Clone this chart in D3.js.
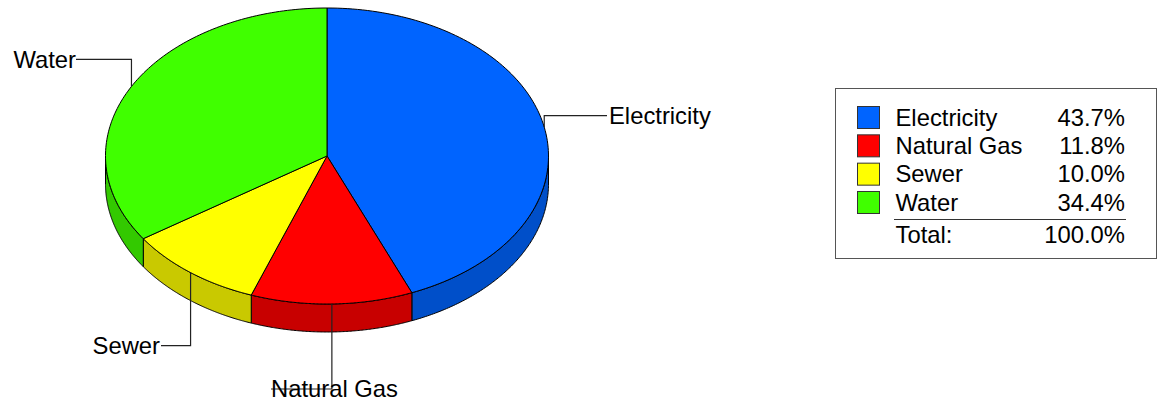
<!DOCTYPE html>
<html>
<head>
<meta charset="utf-8">
<script src="https://cdn.jsdelivr.net/npm/d3@7"></script>
<style>
  html,body{margin:0;padding:0;background:#fff;}
  svg{display:block;}
  text{font-family:"Liberation Sans",Arial,sans-serif;}
</style>
</head>
<body>
<script>
// ---- data ----
const categories = ["Electricity", "Natural Gas", "Sewer", "Water"];
const values = [43.7, 11.8, 10.0, 34.4];
const totalPercent = 100.0; // as printed in the legend (unrounded shares sum to 100)
const topColors = ["#0064FF", "#FF0000", "#FFFF00", "#40FF00"];
const sideColors = ["#004FC9", "#C80000", "#C9C900", "#33C900"];

// ---- layout ----
const W = 1161, H = 406;
const cx = 327, cy = 156, rx = 221.5, ry = 148, depth = 28;
const fontSize = 23.8;
// label anchor [x of leader end, y of leader, text-anchor]
const labelLayout = [
  {x: 607, y: 115.7, anchor: "start", tx: 609},
  {x: 271, y: 389, anchor: "start", tx: 271},
  {x: 161, y: 345.7, anchor: "end", tx: 160},
  {x: 76, y: 59.3, anchor: "end", tx: 76}
];

const svg = d3.select("body").append("svg").attr("width", W).attr("height", H);

const sx = d3.scaleLinear().domain([-1, 1]).range([cx - rx, cx + rx]);
const sy = d3.scaleLinear().domain([-1, 1]).range([cy - ry, cy + ry]);
const pt = (a, dz = 0) => [sx(Math.sin(a)), sy(-Math.cos(a)) + dz];

const arcs = d3.pie().sort(null).value(d => d).startAngle(0).endAngle(2 * Math.PI)(values);
const line = d3.line();
const N = 120;
const sample = (a0, a1, dz = 0) => d3.range(N + 1).map(i => pt(a0 + (a1 - a0) * i / N, dz));

// sides
const sideG = svg.append("g");
arcs.forEach((d, i) => {
  const s = Math.max(d.startAngle, Math.PI / 2), e = Math.min(d.endAngle, 3 * Math.PI / 2);
  if (s >= e) return;
  const pts = sample(s, e).concat(sample(e, s, depth));
  sideG.append("path")
    .attr("d", line(pts) + "Z")
    .attr("fill", sideColors[i])
    .attr("stroke", "#000").attr("stroke-width", 1).attr("stroke-linejoin", "round");
});

// top faces
const topG = svg.append("g");
arcs.forEach((d, i) => {
  const pts = [[cx, cy]].concat(sample(d.startAngle, d.endAngle));
  topG.append("path")
    .attr("d", line(pts) + "Z")
    .attr("fill", topColors[i])
    .attr("stroke", "#000").attr("stroke-width", 1).attr("stroke-linejoin", "round");
});

// leaders + labels
const lg = svg.append("g");
arcs.forEach((d, i) => {
  const mid = (d.startAngle + d.endAngle) / 2;
  const p = pt(mid);
  const L = labelLayout[i];
  lg.append("path")
    .attr("d", line([p, [p[0], L.y], [L.x, L.y]]))
    .attr("fill", "none").attr("stroke", "#222").attr("stroke-width", 1.2);
});
arcs.forEach((d, i) => {
  const L = labelLayout[i];
  lg.append("text")
    .attr("x", L.tx).attr("y", L.y + 8.2)
    .attr("text-anchor", L.anchor)
    .attr("font-size", fontSize).attr("fill", "#000")
    .text(categories[i]);
});

// legend
const fmt = d3.format(".1f");
const leg = svg.append("g");
leg.append("rect").attr("x", 835.5).attr("y", 88.5).attr("width", 321).attr("height", 170)
  .attr("fill", "#fff").attr("stroke", "#555").attr("stroke-width", 1);
const rowY = d3.scaleLinear().domain([0, 1]).range([106, 134.33]);
categories.forEach((c, i) => {
  const y = rowY(i);
  leg.append("rect").attr("x", 857.5).attr("y", y + 0.5).attr("width", 22).attr("height", 22)
    .attr("fill", topColors[i]).attr("stroke", "#333").attr("stroke-width", 1);
  leg.append("text").attr("x", 895.5).attr("y", y + 19.7)
    .attr("font-size", fontSize).text(c);
  leg.append("text").attr("x", 1125).attr("y", y + 19.7).attr("text-anchor", "end")
    .attr("font-size", fontSize).text(fmt(values[i]) + "%");
});
leg.append("line").attr("x1", 894).attr("x2", 1126).attr("y1", 219.5).attr("y2", 219.5)
  .attr("stroke", "#333").attr("stroke-width", 1);
leg.append("text").attr("x", 895.5).attr("y", 243.3).attr("font-size", fontSize).text("Total:");
leg.append("text").attr("x", 1125).attr("y", 243.3).attr("text-anchor", "end")
  .attr("font-size", fontSize).text(fmt(totalPercent) + "%");
</script>
</body>
</html>
